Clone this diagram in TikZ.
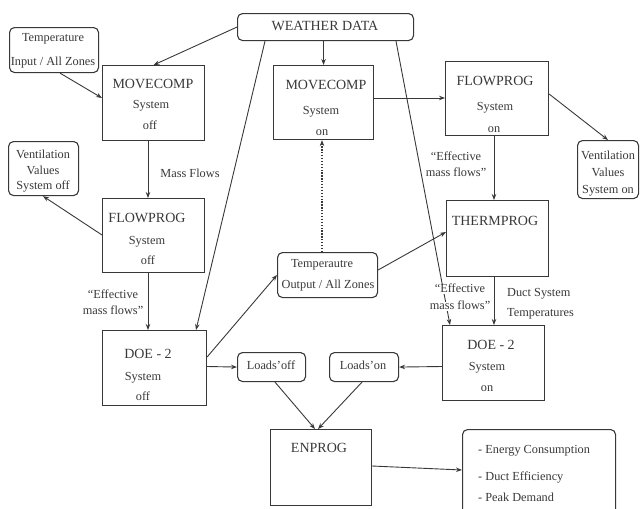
\documentclass[tikz,border=0pt]{standalone}
\usepackage{fontspec}
\setmainfont{Liberation Serif}
\usetikzlibrary{arrows.meta,calc}
\definecolor{ink}{HTML}{383838}
\tikzset{
  box/.style={draw=ink, line width=1.1pt, inner sep=0pt, anchor=north west},
  rbox/.style={box, rounded corners=5pt},
  txt/.style={text=ink, inner sep=0pt, font=\fontsize{12.3}{15}\selectfont, text height=0.68em, text depth=0.02em},
  ttl/.style={txt, font=\fontsize{14}{16}\selectfont},
  conn/.style={draw=ink, line width=0.9pt},
  arr/.style={conn, -{Stealth[length=6pt,width=4.5pt]}},
  dotarr/.style={draw=ink, line width=1.3pt, dash pattern=on 1.3pt off 1.6pt, -{Stealth[length=6pt,width=4.5pt]}},
}
\newcommand\tl[5][txt]{\node[#1] (#2) at (#3,#4) {#5};}
\begin{document}
\begin{tikzpicture}[x=1pt,y=-1pt]
\useasboundingbox (0,0) rectangle (643,509);
\begin{scope}
\clip (0,0) rectangle (643,509);
% boxes
\node[rbox, minimum width=176, minimum height=27] (weather) at (237,13) {};
\tl[ttl]{weathert}{325}{27}{WEATHER DATA}
\node[rbox, minimum width=89, minimum height=45] (tin) at (9,27) {};
\tl{tina}{53}{38}{Temperature}
\tl{tinb}{53}{62}{Input / All Zones}
\node[box, minimum width=102, minimum height=75] (mcoff) at (102,65) {};
\tl[ttl]{mcoffa}{153}{85}{MOVECOMP}
\tl{mcoffb}{151}{105}{System}
\tl{mcoffc}{150}{126}{off}
\node[rbox, minimum width=70, minimum height=54] (voff) at (8,141) {};
\tl{voffa}{43}{155}{Ventilation}
\tl{voffb}{43}{171}{Values}
\tl{voffc}{43}{186}{System off}
\node[box, minimum width=102, minimum height=74] (fpoff) at (102,198) {};
\tl[ttl]{fpoffa}{147}{219}{FLOWPROG}
\tl{fpoffb}{147}{241}{System}
\tl{fpoffc}{148}{261}{off}
\node[box, minimum width=104, minimum height=75] (doeoff) at (102,330) {};
\tl[ttl]{doeoffa}{148}{355}{DOE - 2}
\tl{doeoffb}{143}{377}{System}
\tl{doeoffc}{143}{397}{off}
\node[rbox, minimum width=68, minimum height=29] (ldoff) at (237,352) {};
\tl{ldofft}{271}{366}{Loads'off}
\node[rbox, minimum width=69, minimum height=29] (ldon) at (329,352) {};
\tl{ldont}{363}{366}{Loads'on}
\node[box, minimum width=102, minimum height=75] (doeon) at (442,325) {};
\tl[ttl]{doeona}{491}{346}{DOE - 2}
\tl{doeonb}{487}{367}{System}
\tl{doeonc}{487}{388}{on}
\node[box, minimum width=101, minimum height=76] (enprog) at (270,429) {};
\tl[ttl]{enprogt}{319}{449}{ENPROG}
\node[rbox, minimum width=153, minimum height=100] (out) at (462,429) {};
\node[txt, anchor=west] (outa) at (478,450) {- Energy Consumption};
\node[txt, anchor=west] (outb) at (478,477) {- Duct Efficiency};
\node[txt, anchor=west] (outc) at (478,498) {- Peak Demand};
\node[box, minimum width=100, minimum height=74] (mcon) at (273,65) {};
\tl[ttl]{mcona}{326}{86}{MOVECOMP}
\tl{mconb}{321}{111}{System}
\tl{mconc}{322}{132}{on}
\node[box, minimum width=103, minimum height=74] (fpon) at (445,61) {};
\tl[ttl]{fpona}{495}{82}{FLOWPROG}
\tl{fponb}{495}{107}{System}
\tl{fponc}{494}{129}{on}
\node[rbox, minimum width=61, minimum height=58] (von) at (577,140) {};
\tl{vona}{608}{156}{Ventilation}
\tl{vonb}{608}{173}{Values}
\tl{vonc}{608}{190}{System on}
\node[box, minimum width=102, minimum height=76] (therm) at (446,200) {};
\tl[ttl]{thermt}{495}{222}{THERMPROG}
\node[rbox, minimum width=100, minimum height=45] (tout) at (277,252) {};
\tl{touta}{322}{264}{Temperautre}
\tl{toutb}{328}{285}{Output / All Zones}
% connectors
\draw[arr] (weather.west) -- (mcoff.north);
\draw[arr] (weather.south -| mcon.north) -- (mcon.north);
\draw[arr] ($(weather.south west)+(28,0)$) -- ($(doeoff.north west)+(94,0)$);
\draw[arr] ($(weather.south west)+(159,0)$) -- ($(doeon.north west)+(8,0)$);
\draw[arr] ($(tin.south west)+(51,0)$) -- ($(mcoff.north west)+(0,33)$);
\draw[arr] ($(mcoff.south west)+(46,0)$) -- ($(fpoff.north west)+(46,0)$);
\draw[arr] ($(fpoff.north west)+(0,37)$) -- ($(voff.south west)+(35,0)$);
\draw[arr] ($(fpoff.south west)+(46,0)$) -- ($(doeoff.north west)+(46,0)$);
\draw[arr] ($(doeoff.north east)+(0,27)$) -- ($(tout.north west)+(0,23)$);
\draw[arr] ($(doeoff.north east)+(0,36.5)$) -- (ldoff.west);
\draw[arr] ($(tout.north east)+(0,18)$) -- ($(therm.north west)+(0,32)$);
\draw[dotarr] ($(tout.north west)+(45,0)$) -- ($(mcon.south west)+(49,0)$);
\draw[arr] ($(mcon.north east)+(0,33)$) -- ($(fpon.north west)+(0,37)$);
\draw[arr] ($(fpon.north east)+(0,33)$) -- ($(von.north west)+(31,0)$);
\draw[arr] ($(fpon.south west)+(49,0)$) -- ($(therm.north west)+(48,0)$);
\draw[arr] ($(therm.south west)+(48,0)$) -- ($(doeon.north west)+(52,0)$);
\draw[arr] ($(doeon.north west)+(0,41.5)$) -- (ldon.east);
\draw[arr] ($(ldoff.south west)+(38,0)$) -- ($(enprog.north west)+(45,0)$);
\draw[arr] ($(ldon.south west)+(33,0)$) -- ($(enprog.north west)+(48,0)$);
\draw[arr] ($(enprog.north east)+(0,37)$) -- ($(out.north west)+(0,41)$);
% labels
\tl{massflows}{190}{174}{Mass Flows}
\tl{emfa}{113}{295}{``Effective}
\tl{emfb}{113}{311}{mass flows''}
\tl{emfc}{456}{157}{``Effective}
\tl{emfd}{456}{173}{mass flows''}
\node[txt, fill=white, inner sep=1pt] (emfe) at (460,289) {``Effective};
\node[txt, fill=white, inner sep=1pt] (emff) at (460,306) {mass flows''};
\node[txt, anchor=west] (ducta) at (507,293) {Duct System};
\node[txt, anchor=west] (ductb) at (507,313) {Temperatures};
\end{scope}
\end{tikzpicture}
\end{document}
